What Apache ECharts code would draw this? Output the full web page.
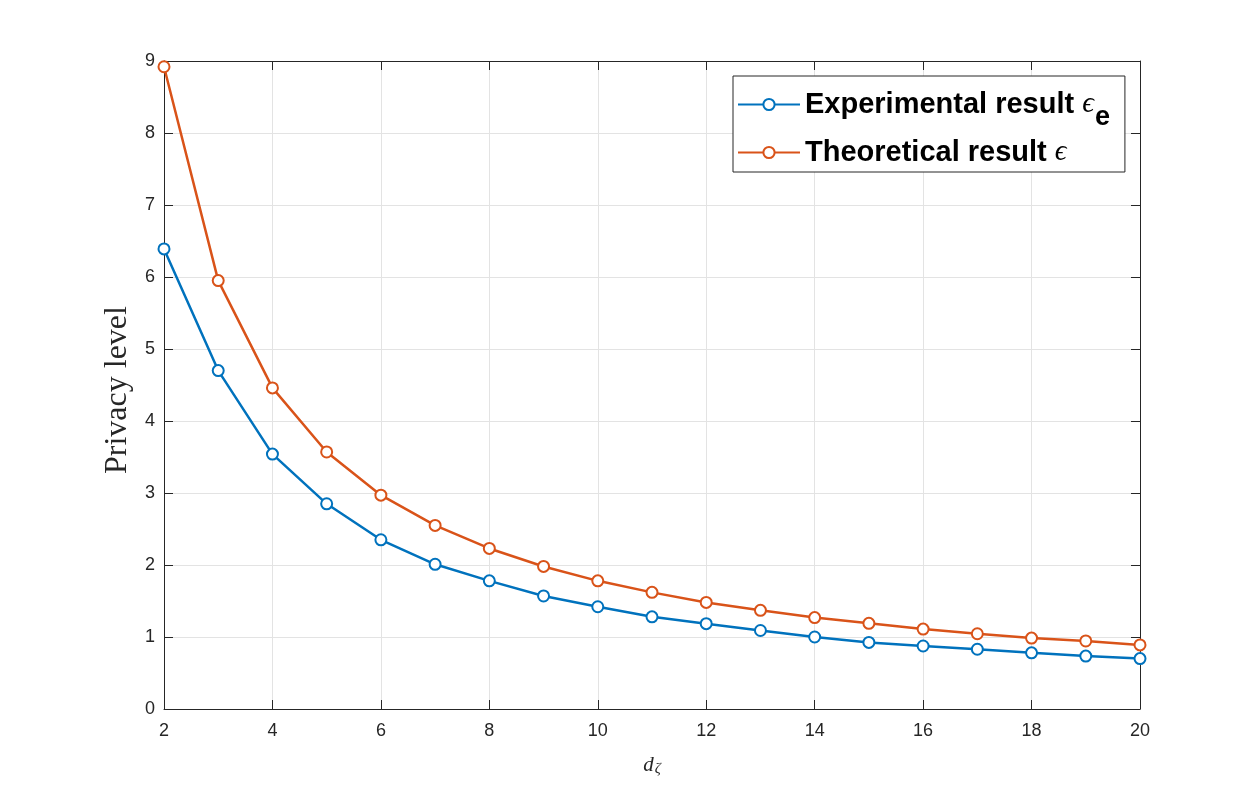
<!DOCTYPE html>
<html>
<head>
<meta charset="utf-8">
<script src="https://cdn.jsdelivr.net/npm/echarts@6/dist/echarts.min.js"></script>
<style>
  html, body { margin: 0; padding: 0; background: #fff; }
  #chart { width: 1260px; height: 798px; }
</style>
</head>
<body>
<div id="chart"></div>
<script>
// values
const dZeta = [2, 3, 4, 5, 6, 7, 8, 9, 10, 11, 12, 13, 14, 15, 16, 17, 18, 19, 20];
const experimental = [6.39, 4.70, 3.54, 2.85, 2.35, 2.01, 1.78, 1.57, 1.42, 1.28, 1.185, 1.09, 1.00, 0.925, 0.875, 0.83, 0.78, 0.735, 0.70];
const theoretical = [8.92, 5.95, 4.46, 3.57, 2.97, 2.55, 2.23, 1.98, 1.78, 1.62, 1.48, 1.37, 1.27, 1.19, 1.11, 1.045, 0.985, 0.945, 0.89];

const seriesNames = ['Experimental result', 'Theoretical result'];
const legendLabels = {
  'Experimental result': '{t|Experimental result }{eps|ϵ}{sub|e}',
  'Theoretical result': '{t|Theoretical result }{eps|ϵ}'
};

const axisColor = '#262626';
const gridColor = '#e3e3e3';
const tickFont = 'Liberation Sans, Arial, sans-serif';
const serifFont = 'Liberation Serif, Times New Roman, serif';

const pairs = (ys) => dZeta.map((x, i) => [x, ys[i]]);

let chart = echarts.init(document.getElementById('chart'));

const lineSeries = (name, data, color) => ({
  name: name,
  type: 'line',
  data: pairs(data),
  symbol: 'emptyCircle',
  symbolSize: 11,
  lineStyle: {color: color, width: 2.5},
  itemStyle: {color: color, borderColor: color, borderWidth: 2.5},
  emphasis: {disabled: true},
  animation: false,
  z: 3
});

chart.setOption({
  backgroundColor: '#fff',
  animation: false,
  grid: {left: 164, right: 120, top: 61, bottom: 89, containLabel: false},
  legend: {
    orient: 'vertical',
    left: 733,
    top: 76,
    itemWidth: 62,
    itemHeight: 14,
    itemGap: 7,
    padding: [2, 15, 5, 4],
    backgroundColor: '#fff',
    borderColor: axisColor,
    borderWidth: 1,
    borderRadius: 0,
    selectedMode: false,
    data: seriesNames,
    formatter: (name) => legendLabels[name],
    textStyle: {
      color: '#000',
      rich: {
        t: {fontFamily: tickFont, fontWeight: 'bold', fontSize: 29, lineHeight: 32, color: '#000'},
        eps: {fontFamily: serifFont, fontStyle: 'italic', fontSize: 29, lineHeight: 32, color: '#000'},
        sub: {fontFamily: tickFont, fontWeight: 'bold', fontSize: 27, lineHeight: 32, padding: [26, 0, 0, 1], color: '#000'}
      }
    }
  },
  xAxis: [
    {
      type: 'value',
      min: 2,
      max: 20,
      interval: 2,
      name: '{d|d}{z|ζ}',
      nameLocation: 'middle',
      nameGap: 44,
      nameTextStyle: {
        rich: {
          d: {fontFamily: serifFont, fontStyle: 'italic', fontSize: 21, color: axisColor},
          z: {fontFamily: serifFont, fontStyle: 'italic', fontSize: 15, color: axisColor, padding: [9, 0, 0, 1]}
        }
      },
      axisLine: {show: true, onZero: false, lineStyle: {color: axisColor, width: 1}},
      axisTick: {show: true, inside: true, length: 9, lineStyle: {color: axisColor}},
      axisLabel: {color: axisColor, fontFamily: tickFont, fontSize: 18, margin: 13},
      splitLine: {show: true, lineStyle: {color: gridColor, width: 1}}
    },
    {
      type: 'value',
      position: 'top',
      min: 2,
      max: 20,
      interval: 2,
      axisLine: {show: true, onZero: false, lineStyle: {color: axisColor, width: 1}},
      axisTick: {show: true, inside: true, length: 9, lineStyle: {color: axisColor}},
      axisLabel: {show: false},
      splitLine: {show: false}
    }
  ],
  yAxis: [
    {
      type: 'value',
      min: 0,
      max: 9,
      interval: 1,
      name: 'Privacy level',
      nameLocation: 'middle',
      nameGap: 23,
      nameTextStyle: {fontFamily: serifFont, fontSize: 32, color: axisColor, padding: [0, 10, 0, 0]},
      axisLine: {show: true, onZero: false, lineStyle: {color: axisColor, width: 1}},
      axisTick: {show: true, inside: true, length: 9, lineStyle: {color: axisColor}},
      axisLabel: {color: axisColor, fontFamily: tickFont, fontSize: 18, margin: 9},
      splitLine: {show: true, lineStyle: {color: gridColor, width: 1}}
    },
    {
      type: 'value',
      position: 'right',
      min: 0,
      max: 9,
      interval: 1,
      axisLine: {show: true, onZero: false, lineStyle: {color: axisColor, width: 1}},
      axisTick: {show: true, inside: true, length: 9, lineStyle: {color: axisColor}},
      axisLabel: {show: false},
      splitLine: {show: false}
    }
  ],
  series: [
    lineSeries(seriesNames[0], experimental, '#0072BD'),
    lineSeries(seriesNames[1], theoretical, '#D95319')
  ]
});
</script>
</body>
</html>
